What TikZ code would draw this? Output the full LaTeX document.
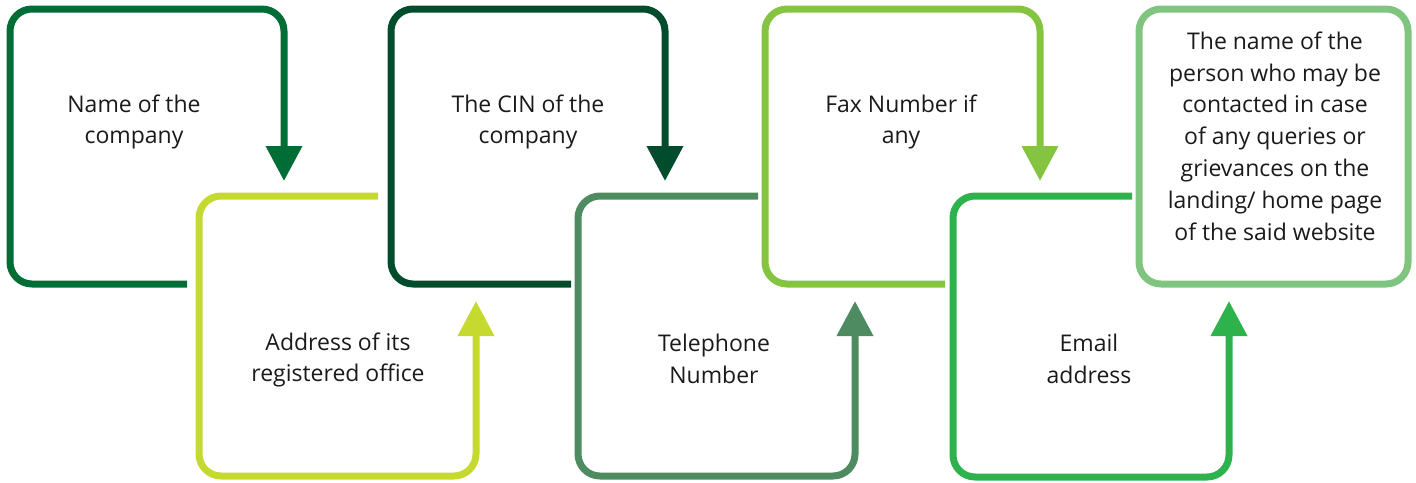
\documentclass[tikz,border=0pt]{standalone}
\usepackage{fontspec}
\setmainfont{Open Sans}
\usetikzlibrary{arrows.meta}
\definecolor{cA}{HTML}{006C36}
\definecolor{cB}{HTML}{C6D92E}
\definecolor{cC}{HTML}{004C2C}
\definecolor{cD}{HTML}{4E8B60}
\definecolor{cE}{HTML}{84C441}
\definecolor{cF}{HTML}{2EB24B}
\definecolor{cG}{HTML}{80C57F}
\definecolor{txt}{HTML}{1A1A1A}
\tikzset{
  flow/.style={line width=7pt, rounded corners=22pt, -{Triangle[width=35pt,length=35pt]}},
  frame/.style={line width=7pt, rounded corners=22pt},
  lbl/.style={align=center, text=txt, font=\fontsize{23}{31.8}\selectfont, inner sep=0pt}
}
\begin{document}
\begin{tikzpicture}[x=1pt,y=-1pt]
\useasboundingbox (0,0) rectangle (1416,482);
% box 1
\draw[flow, cA] (187,284) -- (10,284) -- (10,9) -- (284,9) -- (284,181);
% box 2
\draw[flow, cB] (378,196) -- (199,196) -- (199,476) -- (476,476) -- (476,301);
% box 3
\draw[flow, cC] (571,284) -- (391,284) -- (391,9) -- (665,9) -- (665,181);
% box 4
\draw[flow, cD] (758,196) -- (578,196) -- (578,476) -- (855,476) -- (855,301);
% box 5
\draw[flow, cE] (945,284) -- (765,284) -- (765,9) -- (1040,9) -- (1040,181);
% box 6
\draw[flow, cF] (1132,196) -- (953,196) -- (953,477) -- (1229,477) -- (1229,301);
% box 7
\draw[frame, cG] (1139,9) rectangle (1408,284);
% labels
\node[lbl] (t1) at (134,122) {Name of the\\company};
\node[lbl] (t2) at (338,360) {Address of its\\registered office};
\node[lbl] (t3) at (528,122) {The CIN of the\\company};
\node[lbl] (t4) at (714,359) {Telephone\\Number};
\node[lbl] (t5) at (901,122) {Fax Number if\\any};
\node[lbl] (t6) at (1089,359) {Email\\address};
\node[lbl] (t7) at (1275,136) {The name of the\\person who may be\\contacted in case\\of any queries or\\grievances on the\\landing/ home page\\of the said website};
\end{tikzpicture}
\end{document}
